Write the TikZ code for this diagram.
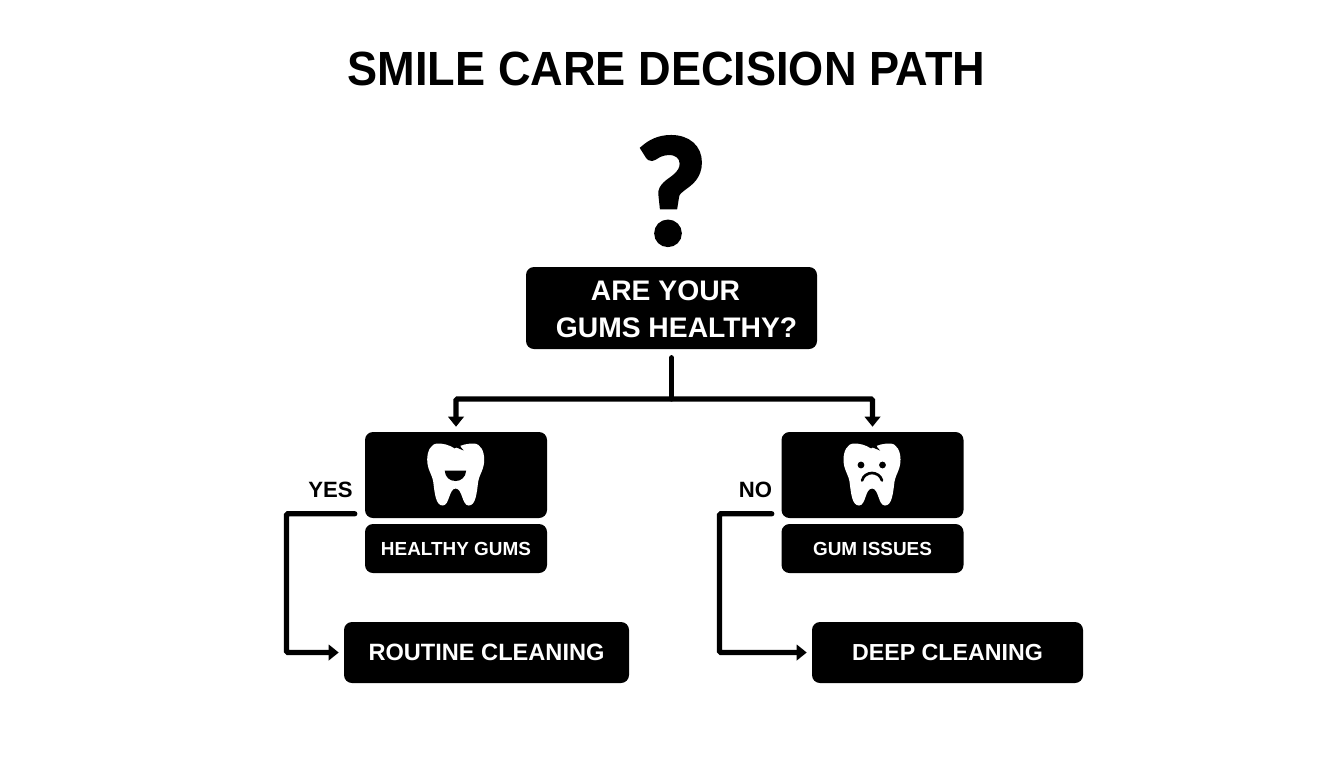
\documentclass[tikz,border=0pt]{standalone}
\usepackage{fontspec}
\setmainfont{Liberation Sans}
\newfontfamily\qfont[FakeBold=4]{Lato}
\usetikzlibrary{arrows.meta,calc}
\tikzset{
  blackbox/.style={fill=black,text=white,rounded corners=6pt,inner sep=0pt,font=\bfseries},
  conn/.style={draw=black,line width=4pt,rounded corners=1pt},
  tip/.style={-{Triangle[length=7.5pt,width=11.5pt]}},
  lab/.style={font=\bfseries\fontsize{16.6}{20}\selectfont,text=black,inner sep=0pt},
  qtext/.style={font=\bfseries\fontsize{21.2}{26}\selectfont,text=white,inner sep=0pt}
}
\newcommand{\toothshape}{%
  (-1,-25) .. controls (-7,-29) and (-13,-30) .. (-18,-30)
  .. controls (-25,-30) and (-28.5,-22) .. (-28.5,-14)
  .. controls (-28.5,-4) and (-24,0) .. (-22.5,8)
  .. controls (-21,20) and (-20,32) .. (-13,32)
  .. controls (-6,32) and (-7,15) .. (0,15)
  .. controls (7,15) and (6,32) .. (13,32)
  .. controls (20,32) and (21,20) .. (22.5,8)
  .. controls (24,0) and (28.5,-4) .. (28.5,-14)
  .. controls (28.5,-22) and (25,-30) .. (18,-30)
  .. controls (12,-30) and (6,-29) .. (-1,-25) -- cycle}
\newcommand{\toothcrack}{%
  (-6,-30) .. controls (-1,-26.5) and (3,-25) .. (8,-23)
  .. controls (6,-25) and (4,-27) .. (4,-31) -- cycle}
\begin{document}
\begin{tikzpicture}[x=0.75pt,y=-0.75pt]
\useasboundingbox (0,0) rectangle (1344,768);
\fill[white] (0,0) rectangle (1344,768);
\node[font=\bfseries\fontsize{36}{44}\selectfont,inner sep=0pt,xscale=0.94] (title) at (666.5,69) {SMILE CARE DECISION PATH};
\node[font=\qfont\bfseries\fontsize{108}{120}\selectfont,inner sep=0pt,anchor=center] (qmark) at (671.5,191) {?};
\node[blackbox,minimum width=218.25pt,minimum height=61.5pt] (q) at (671.5,308) {};
\node[qtext] (q1) at (665.5,291) {ARE YOUR};
\node[qtext] (q2) at (676.5,328) {GUMS HEALTHY?};
\node[blackbox,minimum width=136.5pt,minimum height=64.5pt] (yesbox) at (456,475) {};
\node[blackbox,minimum width=136.5pt,minimum height=64.5pt] (nobox) at (872.5,475) {};
\node[blackbox,minimum width=136.5pt,minimum height=36.75pt,font=\bfseries\fontsize{14.2}{17}\selectfont] (healthy) at (456,548.5) {HEALTHY GUMS};
\node[blackbox,minimum width=136.5pt,minimum height=36.75pt,font=\bfseries\fontsize{14.2}{17}\selectfont] (issues) at (872.5,548.5) {GUM ISSUES};
\node[blackbox,minimum width=213.75pt,minimum height=45.75pt,font=\bfseries\fontsize{17.7}{22}\selectfont] (routine) at (486.5,652.5) {ROUTINE CLEANING};
\node[blackbox,minimum width=203.25pt,minimum height=45.75pt,font=\bfseries\fontsize{17.4}{22}\selectfont] (deep) at (947.5,652.5) {DEEP CLEANING};
\node[lab] (yes) at (330.5,490) {YES};
\node[lab] (no) at (755.5,490) {NO};
% happy tooth
\begin{scope}[shift={(455.7,473.5)}]
  \fill[white] \toothshape;
  \fill[black] \toothcrack;
  \fill[black] (-11,-3) -- (10.5,-3) .. controls (10,4) and (5,7.5) .. (0,7.5) .. controls (-6,7.5) and (-10.5,4) .. (-11,-3) -- cycle;
\end{scope}
% sad tooth
\begin{scope}[shift={(872,473.5)}]
  \fill[white] \toothshape;
  \fill[black] \toothcrack;
  \fill[black] (-11,-8.5) circle (3.4) (10.5,-8.5) circle (3.4);
  \draw[black,line width=2pt,line cap=round] (-10,7) .. controls (-7,-3) and (7,-3) .. (10,7);
\end{scope}
% connectors
\coordinate (hub) at (q.south |- 0,399);
\draw[conn,line cap=round] ($(q.south)+(0,8.5)$) -- (hub);
\draw[conn,tip,shorten >=3.75pt] (hub) -| (yesbox.north);
\draw[conn,tip,shorten >=3.75pt] (hub) -| (nobox.north);
\coordinate (yesout) at ($(yesbox.south west)+(-10,-4.5)$);
\coordinate (noout) at ($(nobox.south west)+(-9.5,-4.5)$);
\coordinate (yesturn) at (286.5,0 |- yesout);
\coordinate (noturn) at (719.5,0 |- noout);
\draw[conn,tip,shorten >=3.75pt,line cap=round] (yesout) -- (yesturn) |- (routine.west);
\draw[conn,tip,shorten >=3.75pt,line cap=round] (noout) -- (noturn) |- (deep.west);
\end{tikzpicture}
\end{document}
